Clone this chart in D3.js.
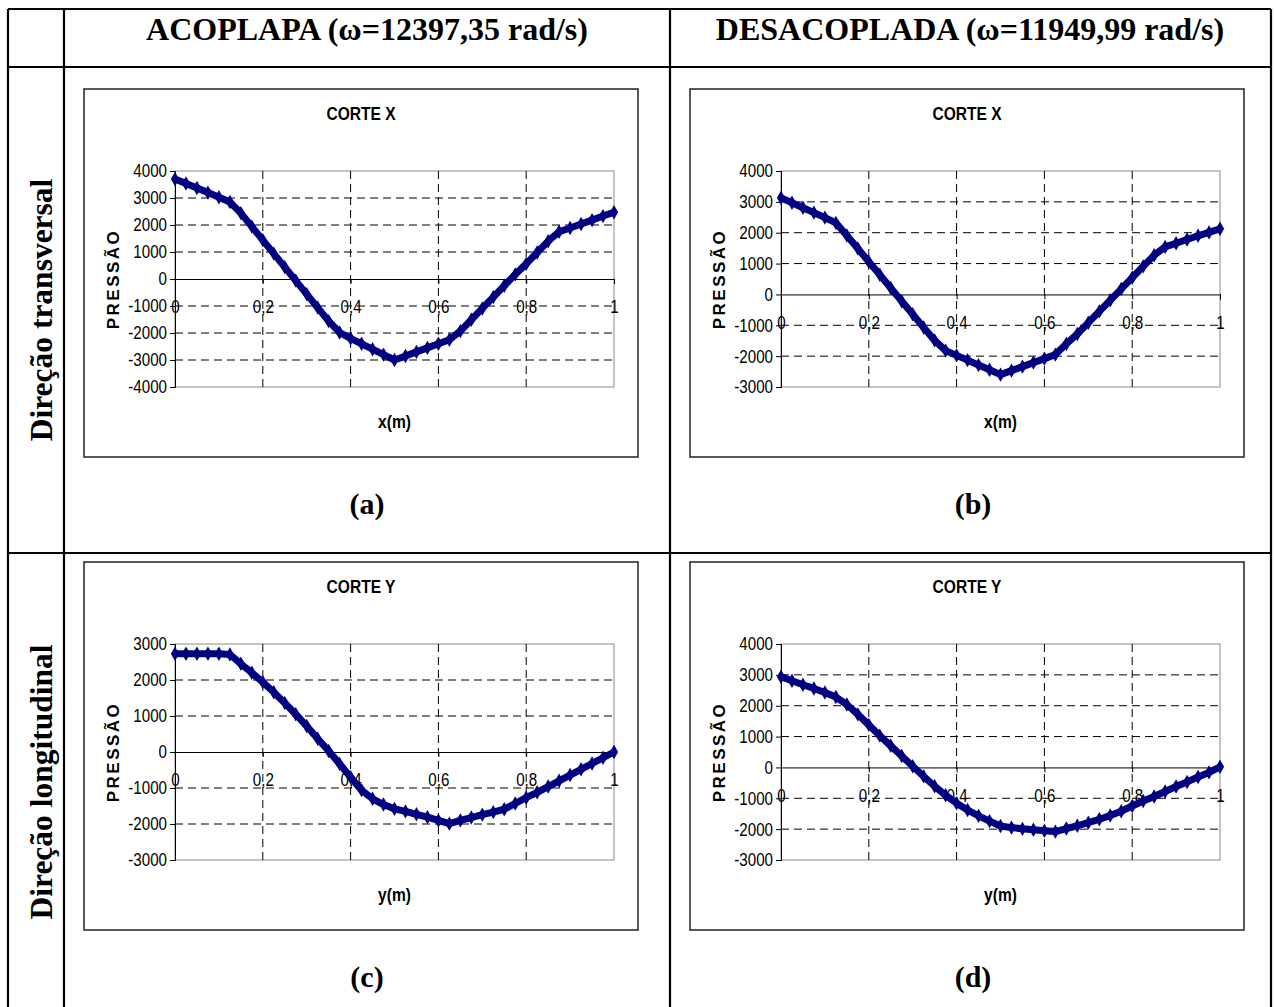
<!DOCTYPE html>
<html>
<head>
<meta charset="utf-8">
<script src="https://cdn.jsdelivr.net/npm/d3@7/dist/d3.min.js"></script>
<style>
  body { margin: 0; background: #fff; }
</style>
</head>
<body>
<svg id="fig" width="1275" height="1007"></svg>
<script>
// column / row headings
const colTitles = ["ACOPLAPA (\u03c9=12397,35 rad/s)", "DESACOPLADA (\u03c9=11949,99 rad/s)"];
const rowTitles = ["Dire\u00e7\u00e3o transversal", "Dire\u00e7\u00e3o longitudinal"];
const panelLetters = ["(a)", "(b)", "(c)", "(d)"];
const chartTitles = ["CORTE X", "CORTE X", "CORTE Y", "CORTE Y"];
const axisTitles = ["x(m)", "x(m)", "y(m)", "y(m)"];

// position along the cut (m)
const pos = [0, 0.025, 0.05, 0.075, 0.1, 0.125, 0.15, 0.175, 0.2, 0.225, 0.25, 0.275, 0.3, 0.325,
  0.35, 0.375, 0.4, 0.425, 0.45, 0.475, 0.5, 0.525, 0.55, 0.575, 0.6, 0.625, 0.65, 0.675, 0.7,
  0.725, 0.75, 0.775, 0.8, 0.825, 0.85, 0.875, 0.9, 0.925, 0.95, 0.975, 1];

// pressure
const pressA = [3700, 3540, 3370, 3200, 3030, 2850, 2440, 1940, 1440, 940, 440, -60, -560, -1060,
  -1560, -1980, -2200, -2400, -2600, -2800, -3000, -2850, -2700, -2550, -2400, -2250, -1930, -1510,
  -1090, -670, -250, 170, 560, 980, 1400, 1750, 1890, 2040, 2180, 2330, 2470];
const pressB = [3130, 2970, 2810, 2650, 2490, 2320, 1910, 1490, 1060, 640, 210, -220, -640, -1070,
  -1490, -1820, -1975, -2130, -2290, -2440, -2600, -2470, -2340, -2210, -2080, -1950, -1600, -1280,
  -920, -550, -190, 180, 540, 910, 1270, 1540, 1660, 1780, 1900, 2010, 2130];
const pressC = [2730, 2730, 2730, 2730, 2730, 2710, 2450, 2200, 1940, 1660, 1360, 1050, 720, 370,
  30, -330, -700, -1060, -1300, -1460, -1580, -1650, -1730, -1810, -1900, -1990, -1900, -1820,
  -1740, -1670, -1590, -1430, -1270, -1120, -960, -800, -640, -480, -320, -160, 0];
const pressD = [2940, 2810, 2680, 2560, 2430, 2280, 2040, 1720, 1380, 1030, 700, 370, 40, -290,
  -610, -900, -1160, -1380, -1570, -1740, -1900, -1950, -1990, -2020, -2050, -2080, -1980, -1890,
  -1790, -1680, -1560, -1420, -1250, -1090, -940, -780, -620, -470, -310, -160, 20];

const yTicksA = [-4000, -3000, -2000, -1000, 0, 1000, 2000, 3000, 4000];
const yTicksB = [-3000, -2000, -1000, 0, 1000, 2000, 3000, 4000];
const yTicksC = [-3000, -2000, -1000, 0, 1000, 2000, 3000];
const yTicksD = [-3000, -2000, -1000, 0, 1000, 2000, 3000, 4000];
const xTicks = [0, 0.2, 0.4, 0.6, 0.8, 1];
const xTickLabels = ["0", "0,2", "0,4", "0,6", "0,8", "1"];

const svg = d3.select("#fig");
const sans = "'Liberation Sans',Arial,sans-serif";
const serif = "'Liberation Serif','Times New Roman',serif";
const squeeze = 0.82; // fake Arial Narrow

// table frame
const tableLines = [
  [8, 9, 1271, 9], [8, 67, 1271, 67], [8, 553, 1271, 553],
  [8, 9, 8, 1007], [64, 9, 64, 1007], [670, 9, 670, 1007], [1271, 9, 1271, 1007]
];
svg.selectAll("line.table")
  .data(tableLines)
  .join("line")
  .attr("class", "table")
  .attr("x1", d => d[0]).attr("y1", d => d[1])
  .attr("x2", d => d[2]).attr("y2", d => d[3])
  .attr("stroke", "#000")
  .attr("stroke-width", 2.2);

// column headings
svg.selectAll("text.colTitle")
  .data(colTitles)
  .join("text")
  .attr("class", "colTitle")
  .attr("x", (d, i) => i === 0 ? 367 : 970)
  .attr("y", 40)
  .attr("text-anchor", "middle")
  .attr("font-family", serif)
  .attr("font-weight", "bold")
  .attr("font-size", 32)
  .text(d => d);

// row headings
svg.selectAll("text.rowTitle")
  .data(rowTitles)
  .join("text")
  .attr("class", "rowTitle")
  .attr("transform", (d, i) => `translate(52,${i === 0 ? 310 : 782}) rotate(-90)`)
  .attr("text-anchor", "middle")
  .attr("font-family", serif)
  .attr("font-weight", "bold")
  .attr("font-size", 31.5)
  .text(d => d);

const panels = [
  { x0: 84, y0: 89, values: pressA, ticks: yTicksA },
  { x0: 690, y0: 89, values: pressB, ticks: yTicksB },
  { x0: 84, y0: 562, values: pressC, ticks: yTicksC },
  { x0: 690, y0: 562, values: pressD, ticks: yTicksD }
];

panels.forEach((p, i) => {
  const g = svg.append("g").attr("transform", `translate(${p.x0},${p.y0})`);

  // chart box
  g.append("rect")
    .attr("x", 0).attr("y", 0)
    .attr("width", 554).attr("height", 368)
    .attr("fill", "#fff")
    .attr("stroke", "#222")
    .attr("stroke-width", 1.5);

  const x = d3.scaleLinear().domain([0, 1]).range([91, 530]);
  const y = d3.scaleLinear().domain(d3.extent(p.ticks)).range([298, 82]);

  // plot area border
  g.append("rect")
    .attr("x", x(0)).attr("y", y.range()[1])
    .attr("width", x(1) - x(0)).attr("height", y.range()[0] - y.range()[1])
    .attr("fill", "none")
    .attr("stroke", "#8a8a8a")
    .attr("stroke-width", 1);

  // dashed grid
  const hGrid = p.ticks.filter(t => t !== 0 && t !== d3.max(p.ticks) && t !== d3.min(p.ticks));
  g.selectAll("line.hgrid")
    .data(hGrid)
    .join("line")
    .attr("class", "hgrid")
    .attr("x1", x(0)).attr("x2", x(1))
    .attr("y1", d => y(d)).attr("y2", d => y(d))
    .attr("stroke", "#000")
    .attr("stroke-dasharray", "8,5");
  g.selectAll("line.vgrid")
    .data(xTicks.slice(1, -1))
    .join("line")
    .attr("class", "vgrid")
    .attr("x1", d => x(d)).attr("x2", d => x(d))
    .attr("y1", y.range()[1]).attr("y2", y.range()[0])
    .attr("stroke", "#000")
    .attr("stroke-dasharray", "8,5");

  // y axis
  const yAxis = d3.axisLeft(y).tickValues(p.ticks).tickSize(5).tickFormat(d => String(d));
  const ya = g.append("g").attr("transform", `translate(${x(0)},0)`).call(yAxis);
  ya.select(".domain").attr("stroke", "#000");
  ya.selectAll("text")
    .attr("font-family", sans)
    .attr("font-size", 18.5)
    .attr("fill", "#000")
    .attr("x", -8 / squeeze)
    .attr("transform", `scale(${squeeze},1)`);

  // x axis through zero
  const xAxis = d3.axisBottom(x).tickValues(xTicks).tickSize(5).tickPadding(16)
    .tickFormat((d, k) => xTickLabels[k]);
  const xa = g.append("g").attr("transform", `translate(0,${y(0)})`).call(xAxis);
  xa.select(".domain").attr("stroke", "#000");
  xa.selectAll("text")
    .attr("font-family", sans)
    .attr("font-size", 18.5)
    .attr("fill", "#000")
    .attr("transform", `scale(${squeeze},1)`);

  // pressure curve
  const pts = pos.map((v, k) => [v, p.values[k]]);
  g.append("path")
    .datum(pts)
    .attr("d", d3.line().x(d => x(d[0])).y(d => y(d[1])))
    .attr("fill", "none")
    .attr("stroke", "#000080")
    .attr("stroke-width", 7)
    .attr("stroke-linejoin", "round");
  g.selectAll("path.mark")
    .data(pts)
    .join("path")
    .attr("class", "mark")
    .attr("transform", d => `translate(${x(d[0])},${y(d[1])})`)
    .attr("d", d3.symbol(d3.symbolDiamond, 60))
    .attr("fill", "#000080");

  // chart texts
  g.append("text")
    .attr("transform", `translate(277,31) scale(${squeeze},1)`)
    .attr("text-anchor", "middle")
    .attr("font-family", sans)
    .attr("font-weight", "bold")
    .attr("font-size", 19)
    .text(chartTitles[i]);
  g.append("text")
    .attr("transform", `translate(${(x(0) + x(1)) / 2},339) scale(${squeeze},1)`)
    .attr("text-anchor", "middle")
    .attr("font-family", sans)
    .attr("font-weight", "bold")
    .attr("font-size", 19)
    .text(axisTitles[i]);
  g.append("text")
    .attr("transform", `translate(35,${(y.range()[0] + y.range()[1]) / 2}) rotate(-90)`)
    .attr("text-anchor", "middle")
    .attr("font-family", sans)
    .attr("font-weight", "bold")
    .attr("font-size", 17)
    .attr("letter-spacing", 2.5)
    .text("PRESS\u00c3O");

  // panel letter
  svg.append("text")
    .attr("x", p.x0 + 283).attr("y", p.y0 + 425)
    .attr("text-anchor", "middle")
    .attr("font-family", serif)
    .attr("font-weight", "bold")
    .attr("font-size", 30)
    .text(panelLetters[i]);
});
</script>
</body>
</html>
